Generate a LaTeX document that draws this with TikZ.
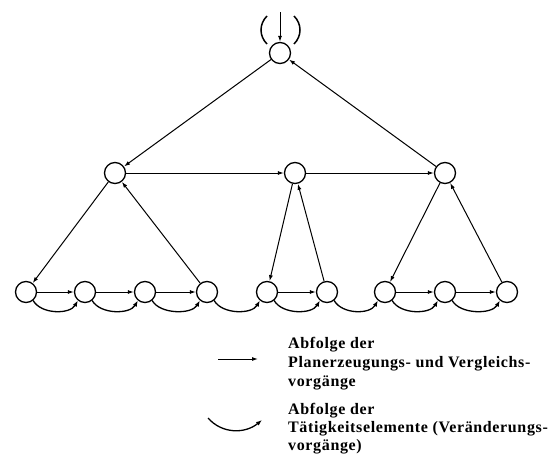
\documentclass[tikz,border=0pt]{standalone}
\usepackage{fontspec}
\usetikzlibrary{arrows.meta}
\newfontfamily\legendfont{Liberation Serif}[LetterSpace=4]
\begin{document}
\begin{tikzpicture}[x=1pt,y=-1pt,
  knot/.style={circle,draw,line width=1.3pt,minimum size=21pt,inner sep=0pt},
  conn/.style={line width=1pt,-{Latex[length=6pt,width=4pt]}},
  arc/.style={line width=1.3pt,-{Latex[length=6pt,width=4.5pt]}},
  paren/.style={line width=1.5pt},
  legtext/.style={anchor=base west,inner sep=0pt,font=\legendfont\bfseries\fontsize{16}{19}\selectfont}]
\useasboundingbox (0,0) rectangle (554,455);
% nodes
\node[knot] (top) at (280,53) {};
\node[knot] (ml) at (115,173) {};
\node[knot] (mm) at (295,173) {};
\node[knot] (mr) at (445,173) {};
\node[knot] (b1) at (26,292) {};
\node[knot] (b2) at (85,292) {};
\node[knot] (b3) at (145,292) {};
\node[knot] (b4) at (207,292) {};
\node[knot] (b5) at (267,292) {};
\node[knot] (b6) at (327,292) {};
\node[knot] (b7) at (385,292) {};
\node[knot] (b8) at (445,292) {};
\node[knot] (b9) at (507,292) {};
% incoming arrow with parentheses
\coordinate (in) at (280,12);
\draw[conn] (in) -- (top);
\draw[paren] (267,16) .. controls (259,24) and (259,36) .. (267,44);
\draw[paren] (294,16) .. controls (302,24) and (302,36) .. (294,44);
% plan arrows
\draw[conn] (top) -- (ml);
\draw[conn] (ml) -- (mm);
\draw[conn] (mm) -- (mr);
\draw[conn] (mr) -- (top);
\draw[conn] (ml) -- (b1);
\draw[conn] (b4) -- (ml);
\draw[conn] (mm) -- (b5);
\draw[conn] (b6) -- (mm);
\draw[conn] (mr) -- (b7);
\draw[conn] (b9) -- (mr);
\draw[conn] (b1) -- (b2);
\draw[conn] (b2) -- (b3);
\draw[conn] (b3) -- (b4);
\draw[conn] (b5) -- (b6);
\draw[conn] (b7) -- (b8);
\draw[conn] (b8) -- (b9);
% activity arcs
\foreach \a/\b in {b1/b2,b2/b3,b3/b4,b4/b5,b5/b6,b6/b7,b7/b8,b8/b9}
  \draw[arc] (\a.-50) .. controls +(8,14) and +(-8,14) .. (\b.-130);
% legend
\coordinate (l1a) at (218,359);
\coordinate (l1b) at (258,359);
\draw[conn] (l1a) -- (l1b);
\coordinate (l2a) at (208,418);
\coordinate (l2b) at (262,420);
\draw[arc] (l2a) .. controls (222,434) and (245,434) .. (l2b);
\node[legtext] (t1) at (288,348) {Abfolge der};
\node[legtext] (t2) at (288,367) {Planerzeugungs- und Vergleichs-};
\node[legtext] (t3) at (288,386) {vorgänge};
\node[legtext] (t4) at (288,414) {Abfolge der};
\node[legtext] (t5) at (288,432) {Tätigkeitselemente (Veränderungs-};
\node[legtext] (t6) at (288,450) {vorgänge)};
\end{tikzpicture}
\end{document}
